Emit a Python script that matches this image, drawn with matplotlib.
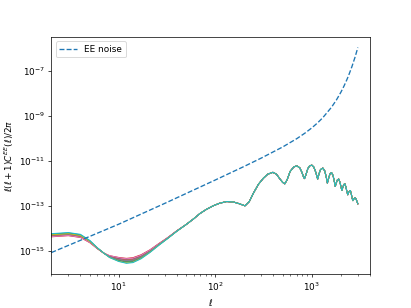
import numpy as np
import matplotlib
matplotlib.use('Agg')
import matplotlib.pyplot as plt

# multipoles of the noise curve and its l(l+1)N_l/2pi
noise_ell = [2, 10, 30, 100, 200, 300, 500, 700, 850, 1000, 1150, 1300, 1600,
             1800, 2000, 2150, 2300, 2400, 2600, 2800, 3000]
noise_dl = [8.1e-16, 1.49e-14, 1.26e-13, 1.38e-12, 5.6e-12, 1.31e-11, 4.09e-11,
            9.6e-11, 1.69e-10, 2.88e-10, 4.86e-10, 8.2e-10, 2.39e-9,
            5.06e-9, 1.11e-8, 2.05e-8, 3.89e-8, 6.03e-8, 1.51e-7, 3.95e-7, 1.09e-6]

# low multipoles, where the models differ (log10 of l(l+1)C_l/2pi)
low_ell = [2, 3, 4, 5, 6, 7, 8, 10, 12, 14, 17, 21, 26, 32, 40]
low_log_dl = [
    [-14.27, -14.22, -14.30, -14.57, -14.89, -15.12, -15.29, -15.45, -15.52, -15.49, -15.33, -15.06, -14.75, -14.46, -14.14],
    [-14.34, -14.29, -14.37, -14.61, -14.91, -15.12, -15.26, -15.37, -15.43, -15.40, -15.26, -15.01, -14.72, -14.44, -14.13],
    [-14.29, -14.24, -14.32, -14.58, -14.89, -15.12, -15.28, -15.43, -15.49, -15.46, -15.30, -15.05, -14.74, -14.46, -14.13],
    [-14.39, -14.34, -14.42, -14.65, -14.92, -15.12, -15.23, -15.31, -15.35, -15.32, -15.19, -14.97, -14.69, -14.43, -14.12],
    [-14.32, -14.27, -14.35, -14.60, -14.90, -15.12, -15.27, -15.39, -15.45, -15.42, -15.27, -15.02, -14.73, -14.45, -14.13],
    [-14.36, -14.31, -14.39, -14.63, -14.91, -15.12, -15.25, -15.35, -15.40, -15.37, -15.23, -15.00, -14.71, -14.44, -14.12],
    [-14.38, -14.33, -14.41, -14.64, -14.92, -15.12, -15.23, -15.32, -15.37, -15.34, -15.21, -14.98, -14.70, -14.43, -14.12],
    [-14.31, -14.26, -14.34, -14.59, -14.90, -15.12, -15.27, -15.41, -15.47, -15.44, -15.29, -15.04, -14.73, -14.45, -14.13],
    [-14.30, -14.25, -14.33, -14.59, -14.89, -15.12, -15.31, -15.48, -15.55, -15.52, -15.35, -15.08, -14.76, -14.47, -14.14],
    [-14.25, -14.20, -14.28, -14.55, -14.88, -15.12, -15.31, -15.49, -15.57, -15.54, -15.37, -15.09, -14.77, -14.47, -14.14],
]

# higher multipoles, shared by all models
high_ell = [50, 60, 69, 80, 95, 110, 131, 154, 175, 203, 225, 248, 280, 315, 350,
            395, 430, 470, 500, 525, 555, 596, 650, 700, 750, 790, 820, 840,
            870, 910, 950, 1000, 1050, 1100, 1150, 1185, 1230, 1300, 1360, 1410,
            1450, 1490, 1540, 1600, 1660, 1710, 1750, 1790, 1840, 1900, 1960,
            2010, 2050, 2100, 2150, 2200, 2260, 2310, 2360, 2410, 2460, 2510,
            2570, 2620, 2670, 2730, 2790, 2830, 2900, 3000]
high_log_dl = [-13.84, -13.58, -13.36, -13.18, -13.01, -12.90, -12.82, -12.84,
               -12.91, -13.01, -12.82, -12.45, -12.05, -11.78, -11.60, -11.52,
               -11.60, -11.83, -11.97, -12.03, -11.85, -11.48, -11.28, -11.23,
               -11.32, -11.52, -11.72, -11.80, -11.62, -11.35, -11.23, -11.20,
               -11.29, -11.52, -11.82, -11.60, -11.40, -11.33, -11.45, -11.72,
               -12.00, -11.80, -11.60, -11.53, -11.66, -11.92, -12.15, -12.00,
               -11.86, -11.82, -11.97, -12.18, -12.33, -12.17, -12.06, -12.03,
               -12.18, -12.38, -12.52, -12.40, -12.36, -12.33, -12.50, -12.68,
               -12.78, -12.70, -12.66, -12.66, -12.75, -12.92]

fig = plt.figure(figsize=(6.4, 4.8), dpi=64.22)
ax = fig.add_subplot(111)

ell = np.array(low_ell + high_ell, dtype=float)
for row in low_log_dl:
    ax.plot(ell, 10.0 ** np.array(row + high_log_dl), lw=1.1)

ax.plot(noise_ell, noise_dl, '--', color='tab:blue', label='EE noise')

ax.set_xscale('log')
ax.set_yscale('log')
ax.set_xlim(2, 4000)
ax.set_xlabel(r'$\ell$')
ax.set_ylabel(r'$\ell(\ell+1)C^{EE}(\ell)/2\pi$')
ax.legend(loc='upper left')

fig.savefig('out.png', dpi=64.22)
